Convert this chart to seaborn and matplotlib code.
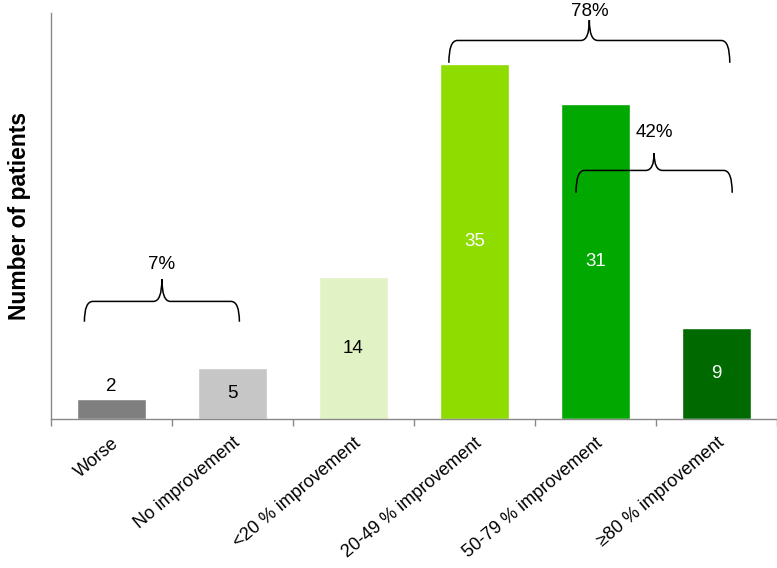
import matplotlib
matplotlib.use("Agg")
import matplotlib.pyplot as plt
from matplotlib.path import Path
from matplotlib.patches import PathPatch
import seaborn as sns
import pandas as pd

# data
categories = ["Worse", "No improvement", "<20 % improvement", "20-49 % improvement",
              "50-79 % improvement", "\u226580 % improvement"]
patients = [2, 5, 14, 35, 31, 9]
bar_colors = ["#7f7f7f", "#c6c6c6", "#e1f2c5", "#8fdc00", "#00a800", "#006a00"]
label_colors = ["black", "black", "black", "white", "white", "white"]

# brace group texts
group_labels = ["7%", "78%", "42%"]

sns.set_theme(style="white")
plt.rcParams["font.family"] = ["Liberation Sans", "DejaVu Sans"]
plt.rcParams["text.color"] = "black"
plt.rcParams["axes.labelcolor"] = "black"
plt.rcParams["xtick.color"] = "black"

df = pd.DataFrame({"category": categories, "patients": patients})

fig = plt.figure(figsize=(7.77, 5.68), dpi=100)
ax = fig.add_axes([0.065, 0.262, 0.935, 0.715])
sns.barplot(data=df, x="category", y="patients", hue="category", palette=bar_colors,
            width=0.57, legend=False, ax=ax, saturation=1)

ax.set_xlim(-0.5, 5.5)
ax.set_ylim(0, 40)
ax.set_yticks([])
ax.set_xlabel("")
ax.set_ylabel("Number of patients", fontsize=16.5, fontweight="bold", labelpad=14)
for s in ["top", "right"]:
    ax.spines[s].set_visible(False)
for s in ["left", "bottom"]:
    ax.spines[s].set_color("#888888")
    ax.spines[s].set_linewidth(1)

ax.set_xticks(range(len(categories)))
ax.set_xticks([i - 0.5 for i in range(len(categories) + 1)], minor=True)
ax.tick_params(axis="x", which="major", length=0, pad=11, colors="black")
ax.tick_params(axis="x", which="minor", length=5, color="#888888", direction="out", bottom=True)
ax.set_xticklabels(categories, rotation=40, ha="right", rotation_mode="anchor", fontsize=13)

# value labels
for i, (v, c) in enumerate(zip(patients, label_colors)):
    if v < 4:
        ax.text(i, v + 0.4, str(v), ha="center", va="bottom", fontsize=13.5, color=c)
    else:
        ax.text(i, v / 2, str(v), ha="center", va="center", fontsize=13.5, color=c)


def brace(x0, x1, yb, yh, yp, text, ty):
    dx = 0.07
    xm = (x0 + x1) / 2
    verts = [(x0, yb), (x0, yh), (x0 + dx, yh), (xm - dx, yh), (xm, yh), (xm, yp),
             (xm, yh), (xm + dx, yh), (x1 - dx, yh), (x1, yh), (x1, yb)]
    codes = [Path.MOVETO, Path.CURVE3, Path.CURVE3, Path.LINETO, Path.CURVE3, Path.CURVE3,
             Path.CURVE3, Path.CURVE3, Path.LINETO, Path.CURVE3, Path.CURVE3]
    ax.add_patch(PathPatch(Path(verts, codes), fill=False, lw=1.1, color="black", clip_on=False))
    ax.text(xm, ty, text, ha="center", va="center", fontsize=13.5, clip_on=False)


brace(-0.22, 1.06, 9.6, 11.6, 13.8, group_labels[0], 15.2)
brace(2.79, 5.11, 35.1, 37.3, 39.3, group_labels[1], 40.2)
brace(3.84, 5.13, 22.3, 24.5, 26.2, group_labels[2], 28.2)

fig.savefig("out.png", dpi=100)
